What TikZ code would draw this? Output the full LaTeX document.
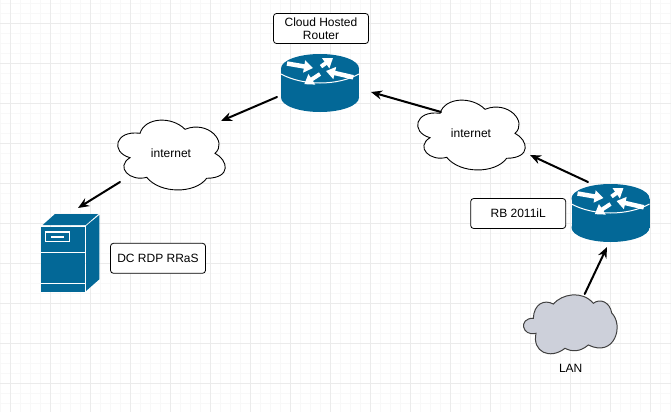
\documentclass[tikz,border=0pt]{standalone}
\usepackage{fontspec}
\setmainfont{Liberation Sans}
\usetikzlibrary{arrows.meta}
\definecolor{ciscoblue}{HTML}{036897}
\definecolor{lancloud}{HTML}{CDD0DA}
\definecolor{gridmajor}{HTML}{EBEBEB}
\definecolor{gridminor}{HTML}{F8F8F8}
\tikzset{
    conn/.style={line width=2pt, line cap=round, -{Stealth[length=11pt,width=9pt]}},
    labelbox/.style={draw, rounded corners=3pt, line width=.8pt, fill=white, align=center, inner sep=0pt, minimum width=95pt, minimum height=30pt},
    holder/.style={inner sep=0pt, outer sep=0pt, minimum width=#1},
    tagtext/.style={font=\fontsize{12}{13.5}\selectfont, align=center},
    whitearrow/.style={white, line width=#1, -{Triangle[length=9pt,width=12pt]}},
}
% one cylinder with the four arrows, origin in the middle of the body
\newcommand{\routerbody}[1]{
    \begin{scope}[shift={#1}]
        \fill[ciscoblue] (0,-14.5) ellipse [x radius=39, y radius=14.5];
        \fill[ciscoblue] (0,14.5) ellipse [x radius=39, y radius=14.5];
        \fill[ciscoblue] (-39,-14.5) rectangle (39,14.5);
        \draw[white, line width=1pt] (-39,-9) .. controls (-28,-3) and (-14,0) .. (0,0) .. controls (14,0) and (28,-3) .. (39,-9);
        \draw[whitearrow=4.5pt] (-33,-19.5) -- (-7,-15);
        \draw[whitearrow=4pt] (1,-16.4) -- (13,-25);
        \draw[whitearrow=4.5pt] (33.3,-5.7) -- (6,-12);
        \draw[whitearrow=4pt] (0,-9) -- (-15.7,1.2);
    \end{scope}
}
% outline of the white cloud, origin top left of its box
\newcommand{\inetoutline}[1]{
    \draw[line width=.9pt, fill=white, shift={#1}] (30,47.7)
        .. controls (10,42) and (15,20) .. (40,23.3)
        .. controls (45,7) and (72,6) .. (85,19.3)
        .. controls (108,10) and (128,32) .. (115,43.3)
        .. controls (128,50) and (132,68) .. (106.7,68.3)
        .. controls (95,84) and (60,84) .. (46.7,67.3)
        .. controls (30,72) and (15,57) .. cycle;
}
\begin{document}
\begin{tikzpicture}[x=1pt,y=-1pt]
    \useasboundingbox (0,0) rectangle (671,412);
    %grid
    \foreach \x in {0,10,...,670} \draw[gridminor, line width=1pt] (\x+.5,0) -- (\x+.5,412);
    \foreach \y in {3,13,...,403} \draw[gridminor, line width=1pt] (0,\y+.5) -- (671,\y+.5);
    \foreach \x in {10,50,...,650} \draw[gridmajor, line width=1pt] (\x+.5,0) -- (\x+.5,412);
    \foreach \y in {23,63,...,383} \draw[gridmajor, line width=1pt] (0,\y+.5) -- (671,\y+.5);
    %clouds
    \inetoutline{(100,110)}
    \inetoutline{(400,90)}
    \draw[line width=1pt, draw=black!75, fill=lancloud, shift={(510,280)}] (26,53.3)
        .. controls (12,57) and (8,38) .. (23.3,38.3)
        .. controls (24,24) and (34,19) .. (43.3,24)
        .. controls (52,14) and (72,10) .. (83.3,23.3)
        .. controls (90,18) and (100,22) .. (101.7,33)
        .. controls (114,45) and (105,78) .. (78.3,65)
        .. controls (70,72) and (62,72) .. (55,68.3)
        .. controls (40,80) and (22,72) .. cycle;
    %routers
    \routerbody{(320,83)}
    \routerbody{(610.5,213)}
    %server
    \fill[ciscoblue] (55,214) -- (98.3,214) -- (85.7,225) -- (42.7,225) -- cycle;
    \fill[ciscoblue] (86,226) -- (99.3,215) -- (99.3,279.3) -- (86,291) -- cycle;
    \fill[ciscoblue] (41,226.7) rectangle (85,291.7);
    \draw[white, line width=1pt] (41,252.3) -- (85,252.3) (41,283.3) -- (85,283.3);
    \draw[white, line width=1.2pt] (45.5,232) rectangle (69.5,241.5);
    \fill[white] (51,236) rectangle (64,237.8);
    %nodes
    \node[holder=78pt, minimum height=58pt] (routerA) at (320,83) {};
    \node[holder=78pt, minimum height=58pt] (routerB) at (610.5,213) {};
    \node[holder=58pt, minimum height=78pt] (serverA) at (70,253) {};
    \node[holder=100pt, minimum height=64pt, tagtext] (inetA) at (171,153) {internet};
    \node[holder=100pt, minimum height=64pt, tagtext] (inetB) at (471,133) {internet};
    \node[holder=95pt, minimum height=60pt] (lanA) at (570.7,324) {};
    \node[tagtext] (lanText) at (570.7,368.3) {LAN};
    \node[labelbox, tagtext] (routerAText) at (321,28.5) {Cloud Hosted\\Router};
    \node[labelbox, tagtext] (serverText) at (158,258.3) {DC RDP RRaS};
    \node[labelbox, tagtext] (routerBText) at (518.2,213.5) {RB 2011iL};
    %links
    \draw[conn] ([shift={(-4,14)}]routerA.west) -- (inetA.north east);
    \draw[conn] ([shift={(-1,-3)}]inetA.south west) -- ([shift={(8,-6)}]serverA.north);
    \draw[conn] ([shift={(20,11)}]inetB.north west) -- ([shift={(12,9)}]routerA.east);
    \draw[conn] ([shift={(-22.5,-2)}]routerB.north) -- ([shift={(9,-10)}]inetB.south east);
    \draw[conn] ([xshift=14]lanA.north) -- ([shift={(-3.5,5)}]routerB.south);
\end{tikzpicture}
\end{document}
